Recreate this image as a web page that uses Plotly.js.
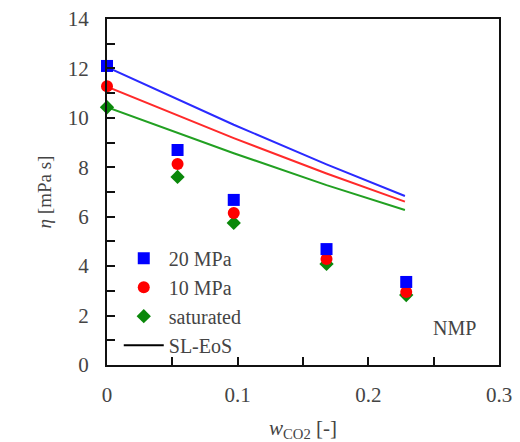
<!DOCTYPE html>
<html>
<head>
<meta charset="utf-8">
<script src="https://cdn.plot.ly/plotly-3.0.1.min.js"></script>
<style>html,body{margin:0;padding:0;background:#fff;}#chart{width:520px;height:442px;}</style>
</head>
<body>
<div id="chart"></div>
<script>
// Experimental data: CO2 mass fraction and viscosity (mPa s)
const wCO2 = [0, 0.054, 0.097, 0.168, 0.229];
const eta20MPa = [12.1, 8.70, 6.68, 4.69, 3.36];
const eta10MPa = [11.28, 8.13, 6.15, 4.29, 2.95];
const etaSat = [10.43, 7.61, 5.75, 4.09, 2.83];

// SL-EoS model curves
const wModel = [0, 0.054, 0.097, 0.168, 0.228];
const model20MPa = [12.05, 10.75, 9.72, 8.12, 6.84];
const model10MPa = [11.26, 10.10, 9.18, 7.75, 6.61];
const modelSat = [10.43, 9.38, 8.57, 7.28, 6.27];

const legendNames = ['20 MPa', '10 MPa', 'saturated', 'SL-EoS'];
const xTickVals = [0, 0.1, 0.2, 0.3];
const xTickText = ['0', '0.1', '0.2', '0.3'];
const yTickVals = [0, 2, 4, 6, 8, 10, 12, 14];

const serif = 'Times New Roman';

const traces = [
  {x: wModel, y: modelSat, mode: 'lines', line: {color: '#22a022', width: 2}, showlegend: false, hoverinfo: 'skip'},
  {x: wModel, y: model10MPa, mode: 'lines', line: {color: '#ff2a2a', width: 2}, showlegend: false, hoverinfo: 'skip'},
  {x: wModel, y: model20MPa, mode: 'lines', line: {color: '#2a2aff', width: 2}, showlegend: false, hoverinfo: 'skip'},
  {x: wCO2, y: etaSat, mode: 'markers', name: legendNames[2], legendrank: 3, cliponaxis: false,
   marker: {symbol: 'diamond', size: 11, color: '#0a880a'}},
  {x: wCO2, y: eta10MPa, mode: 'markers', name: legendNames[1], legendrank: 2, cliponaxis: false,
   marker: {symbol: 'circle', size: 12, color: '#ff0000'}},
  {x: wCO2, y: eta20MPa, mode: 'markers', name: legendNames[0], legendrank: 1, cliponaxis: false,
   marker: {symbol: 'square', size: 12, color: '#0000ff'}},
  {x: [null], y: [null], mode: 'lines', name: legendNames[3], legendrank: 4,
   line: {color: '#000000', width: 2}}
];

const layout = {
  width: 520, height: 442,
  margin: {l: 107, r: 21, t: 19, b: 77},
  paper_bgcolor: '#ffffff', plot_bgcolor: '#ffffff',
  font: {family: serif, size: 20},
  showlegend: true,
  legend: {x: 0.03, y: 0.365, xanchor: 'left', yanchor: 'top', bgcolor: 'rgba(0,0,0,0)',
           font: {family: serif, size: 20}, itemwidth: 40, tracegroupgap: 0},
  xaxis: {
    range: [0, 0.3], tickvals: xTickVals, ticktext: xTickText,
    ticks: 'inside', ticklen: 8, tickwidth: 2, tickcolor: '#111111',
    minor: {dtick: 0.05, ticks: 'inside', ticklen: 8, tickwidth: 2, tickcolor: '#111111'},
    showline: true, linecolor: '#111111', linewidth: 2, mirror: true,
    showgrid: false, zeroline: false, ticklabelstandoff: 10,
    tickfont: {family: serif, size: 21},
    title: {text: '<i>w</i><sub>CO2</sub> [-]', font: {family: serif, size: 21}, standoff: 16}
  },
  yaxis: {
    range: [0, 14], tickvals: yTickVals,
    ticks: 'inside', ticklen: 8, tickwidth: 2, tickcolor: '#111111',
    minor: {dtick: 1, ticks: 'inside', ticklen: 8, tickwidth: 2, tickcolor: '#111111'},
    showline: true, linecolor: '#111111', linewidth: 2, mirror: true,
    showgrid: false, zeroline: false, ticklabelstandoff: 12,
    tickfont: {family: serif, size: 21},
    title: {text: '<i>η</i> [mPa s]', font: {family: serif, size: 19}, standoff: 11}
  },
  annotations: [
    {x: 0.266, y: 1.5, xref: 'x', yref: 'y', text: 'NMP', showarrow: false,
     font: {family: serif, size: 20}}
  ]
};

Plotly.newPlot('chart', traces, layout, {displayModeBar: false, staticPlot: true});
</script>
</body>
</html>
